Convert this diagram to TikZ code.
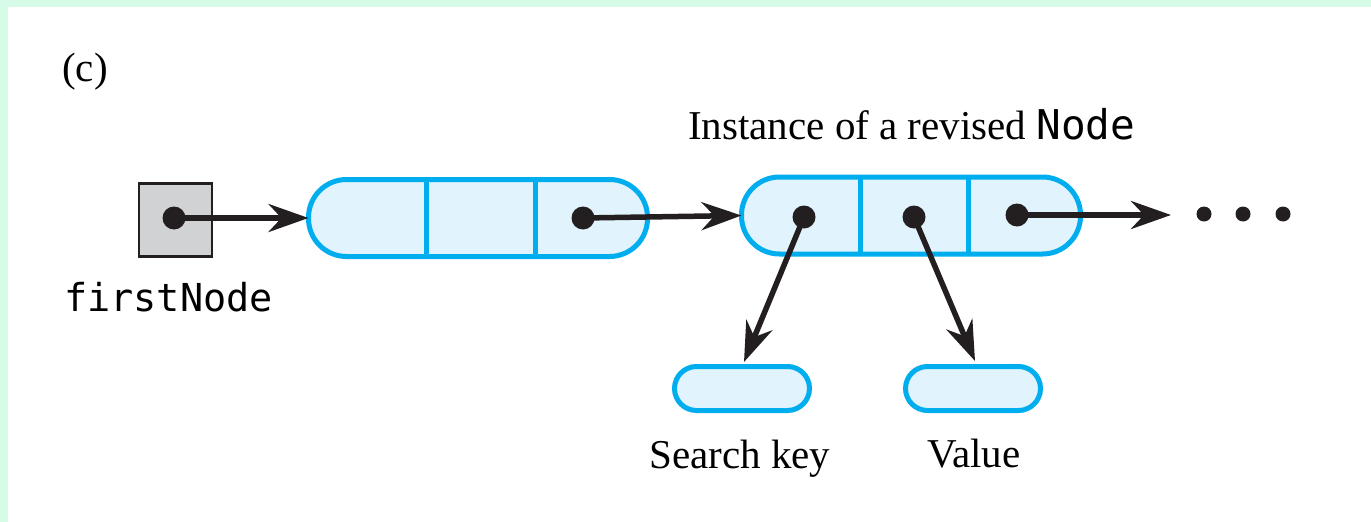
\documentclass[tikz,border=0pt]{standalone}
\usepackage{fontspec}
\setmainfont{Liberation Serif}
\newfontfamily\codefont{DejaVu Sans Mono}
\usetikzlibrary{arrows.meta}
\definecolor{mint}{RGB}{214,251,230}
\definecolor{cyanline}{RGB}{0,174,239}
\definecolor{cyanfill}{RGB}{225,243,252}
\definecolor{ink}{RGB}{35,31,32}
\definecolor{boxgray}{RGB}{209,210,212}
\tikzset{
  llnode/.style={draw=cyanline, fill=cyanfill, line width=5pt, rounded corners=38pt,
    minimum width=339pt, minimum height=77pt, inner sep=0pt, outer sep=0pt},
  smallnode/.style={draw=cyanline, fill=cyanfill, line width=5pt, rounded corners=22pt,
    minimum width=135pt, minimum height=44pt, inner sep=0pt, outer sep=0pt},
  divider/.style={draw=cyanline, line width=5pt},
  refbox/.style={draw=ink, fill=boxgray, line width=2.5pt, minimum size=73pt, inner sep=0pt, outer sep=0pt},
  refdot/.style={circle, fill=ink, minimum size=23pt, inner sep=0pt, outer sep=0pt},
  moredot/.style={circle, fill=ink, minimum size=15pt, inner sep=0pt},
  link/.style={draw=ink, line width=5.5pt, -{Stealth[length=40pt,width=28pt,inset=13pt]}},
  txt/.style={inner sep=0pt, anchor=base west, font=\fontsize{41pt}{49pt}\selectfont},
  codetxt/.style={inner sep=0pt, anchor=base west, font=\fontsize{38.5pt}{46pt}\selectfont\codefont}
}
\begin{document}
\begin{tikzpicture}[x=1pt, y=-1pt]
\useasboundingbox (0,0) rectangle (1371,522);
\fill[white] (0,0) rectangle (1371,522);
\fill[mint] (0,0) rectangle (1371,7);
\fill[mint] (0,0) rectangle (8,522);

\node[txt] (lbl) at (62,81) {(c)};
\node[txt] (inst) at (688,139) {Instance of a revised {\fontsize{41pt}{49pt}\selectfont\codefont Node}};

% firstNode reference
\node[refbox] (fn) at (175.5,220) {};
\node[refdot] (fnd) at (174,218) {};
\node[codetxt] (fnlbl) at (64,311) {firstNode};

% first linked node
\node[llnode] (n1) at (478,218) {};
\draw[divider] (426,179.5) -- (426,256.5);
\draw[divider] (535,179.5) -- (535,256.5);
\node[refdot] (n1d) at (583,218) {};

% second linked node
\node[llnode] (n2) at (911,215.5) {};
\draw[divider] (860,177) -- (860,254);
\draw[divider] (968,177) -- (968,254);
\node[refdot] (n2a) at (804,217) {};
\node[refdot] (n2b) at (914,217) {};
\node[refdot] (n2c) at (1017,215) {};

% key and value
\node[smallnode] (sk) at (742,388.5) {};
\node[smallnode] (val) at (973,388.5) {};
\node[txt] (sklbl) at (649,468) {Search key};
\node[txt] (vallbl) at (927,467) {Value};

% ellipsis
\coordinate (nxt) at (1171,215);
\node[moredot] (m1) at (1204,214) {};
\node[moredot] (m2) at (1243,214) {};
\node[moredot] (m3) at (1283,214) {};

% links
\draw[link] (fnd.center) -- (n1.west);
\draw[link] (n1d.center) -- (n2.west);
\draw[link] (n2c.center) -- (nxt);
\draw[link] (n2a.center) -- (744,362);
\draw[link] (n2b.center) -- (975,361);
\end{tikzpicture}
\end{document}
